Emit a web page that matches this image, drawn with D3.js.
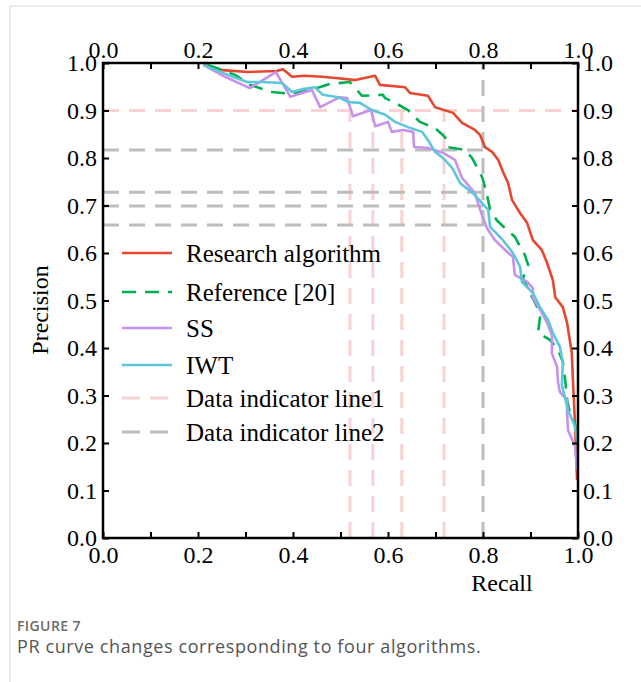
<!DOCTYPE html>
<html>
<head>
<meta charset="utf-8">
<script src="https://cdn.jsdelivr.net/npm/d3@7"></script>
<style>
  body { margin: 0; background: #fff; }
  .serif { font-family: "Liberation Serif", "Times New Roman", serif; }
</style>
</head>
<body>
<svg id="chart" width="641" height="682"></svg>
<script>
// series: [recall, precision] pairs
var researchAlg = [[0.215,0.996],[0.251,0.985],[0.305,0.981],[0.366,0.983],[0.379,0.987],[0.398,0.971],[0.425,0.973],[0.461,0.971],[0.495,0.968],[0.531,0.964],[0.573,0.973],[0.583,0.954],[0.636,0.949],[0.646,0.937],[0.684,0.931],[0.699,0.907],[0.737,0.895],[0.756,0.874],[0.783,0.859],[0.794,0.848],[0.804,0.823],[0.819,0.813],[0.832,0.796],[0.842,0.771],[0.853,0.747],[0.861,0.712],[0.878,0.684],[0.893,0.663],[0.905,0.627],[0.924,0.606],[0.935,0.579],[0.947,0.543],[0.952,0.507],[0.968,0.486],[0.977,0.453],[0.987,0.389],[0.989,0.339],[0.994,0.234],[0.998,0.122]];
var reference20 = [[0.221,0.996],[0.278,0.975],[0.309,0.954],[0.356,0.939],[0.394,0.935],[0.436,0.943],[0.478,0.956],[0.520,0.960],[0.545,0.931],[0.589,0.933],[0.594,0.926],[0.615,0.916],[0.642,0.901],[0.667,0.876],[0.699,0.863],[0.720,0.844],[0.726,0.823],[0.762,0.817],[0.777,0.800],[0.798,0.760],[0.806,0.733],[0.815,0.691],[0.829,0.669],[0.851,0.648],[0.867,0.634],[0.888,0.596],[0.895,0.575],[0.884,0.547],[0.899,0.516],[0.914,0.486],[0.920,0.465],[0.916,0.432],[0.941,0.417],[0.958,0.396],[0.968,0.371],[0.973,0.333],[0.977,0.291],[0.983,0.263],[0.994,0.238],[1.0,0.211]];
var ssAlg = [[0.211,0.996],[0.257,0.971],[0.309,0.947],[0.364,0.981],[0.394,0.929],[0.440,0.943],[0.457,0.907],[0.499,0.928],[0.514,0.926],[0.526,0.888],[0.564,0.901],[0.573,0.867],[0.600,0.876],[0.608,0.855],[0.632,0.859],[0.653,0.855],[0.655,0.823],[0.684,0.821],[0.716,0.811],[0.741,0.796],[0.756,0.758],[0.783,0.726],[0.794,0.691],[0.808,0.653],[0.825,0.627],[0.851,0.602],[0.863,0.592],[0.867,0.554],[0.893,0.539],[0.905,0.526],[0.905,0.505],[0.924,0.474],[0.935,0.453],[0.945,0.427],[0.945,0.389],[0.956,0.360],[0.958,0.328],[0.962,0.307],[0.977,0.291],[0.977,0.263],[0.979,0.227],[0.994,0.192],[0.998,0.143]];
var iwtAlg = [[0.211,0.996],[0.263,0.975],[0.303,0.960],[0.335,0.960],[0.377,0.958],[0.398,0.939],[0.421,0.945],[0.446,0.949],[0.463,0.933],[0.495,0.928],[0.516,0.918],[0.541,0.916],[0.566,0.901],[0.594,0.891],[0.615,0.876],[0.642,0.865],[0.672,0.855],[0.684,0.838],[0.699,0.813],[0.716,0.800],[0.735,0.779],[0.752,0.747],[0.779,0.726],[0.798,0.705],[0.811,0.691],[0.815,0.655],[0.842,0.627],[0.863,0.600],[0.878,0.571],[0.882,0.539],[0.905,0.516],[0.920,0.486],[0.937,0.459],[0.947,0.432],[0.962,0.402],[0.968,0.368],[0.966,0.322],[0.979,0.269],[0.994,0.234],[1.0,0.192]];

// indicator lines
var line1Horiz = [0.9];                          // pink, full width
var line1Vert = [0.52, 0.568, 0.629, 0.718];     // pink, from 0 up to 0.9
var line2Horiz = [0.817, 0.728, 0.699, 0.659];   // grey, from 0 to 0.8
var line2Vert = [0.8];                           // grey, full height

var tickValues = [0, 0.1, 0.2, 0.3, 0.4, 0.5, 0.6, 0.7, 0.8, 0.9, 1.0];
var legendNames = ["Research algorithm", "Reference [20]", "SS", "IWT", "Data indicator line1", "Data indicator line2"];

var svg = d3.select("#chart");

var x = d3.scaleLinear().domain([0, 1]).range([103, 578]),
    y = d3.scaleLinear().domain([0, 1]).range([538, 63]);

// page frame
svg.append("path")
    .attr("d", "M10,682V6H641")
    .attr("fill", "none")
    .attr("stroke", "#d8d8d8")
    .attr("stroke-width", 1);

var pink = "#f9d3d3", grey = "#bdbdbd";

// indicator lines
var ind = svg.append("g").attr("fill", "none").attr("stroke-width", 3).attr("stroke-dasharray", "16,10");
line1Horiz.forEach(function (v) {
    ind.append("line").attr("stroke", pink)
        .attr("x1", x(0)).attr("x2", x(1)).attr("y1", y(v)).attr("y2", y(v));
});
line1Vert.forEach(function (v) {
    ind.append("line").attr("stroke", pink)
        .attr("x1", x(v)).attr("x2", x(v)).attr("y1", y(0)).attr("y2", y(0.9));
});
line2Horiz.forEach(function (v) {
    ind.append("line").attr("stroke", grey)
        .attr("x1", x(0)).attr("x2", x(0.8)).attr("y1", y(v)).attr("y2", y(v));
});
line2Vert.forEach(function (v) {
    ind.append("line").attr("stroke", grey)
        .attr("x1", x(v)).attr("x2", x(v)).attr("y1", y(0)).attr("y2", y(1));
});

// curves
var line = d3.line().x(function (d) { return x(d[0]); }).y(function (d) { return y(d[1]); });
var series = [
    { data: researchAlg, color: "#e5472f", dash: null },
    { data: reference20, color: "#00b04f", dash: "14,9" },
    { data: ssAlg, color: "#c891ee", dash: null },
    { data: iwtAlg, color: "#5cc6da", dash: null }
];
svg.append("g").selectAll("path").data(series).enter()
    .append("path")
    .attr("d", function (d) { return line(d.data); })
    .attr("fill", "none")
    .attr("stroke", function (d) { return d.color; })
    .attr("stroke-width", 2.6)
    .attr("stroke-linejoin", "round")
    .attr("stroke-dasharray", function (d) { return d.dash; });

// axes
var fmt = d3.format(".1f");
var xFmt = function (d, i) { return i % 2 === 0 ? fmt(d) : ""; };

function styleAxis(g) {
    g.select(".domain").remove();
    g.selectAll(".tick line").attr("stroke", "#000").attr("stroke-width", 2);
    g.selectAll("text").attr("class", "serif").attr("font-size", 24).attr("fill", "#000");
}

svg.append("g").attr("transform", "translate(0," + y(0) + ")")
    .call(d3.axisBottom(x).tickValues(tickValues).tickFormat(xFmt).tickSizeInner(-6).tickSizeOuter(0).tickPadding(8))
    .call(styleAxis);
svg.append("g").attr("transform", "translate(0," + y(1) + ")")
    .call(d3.axisTop(x).tickValues(tickValues).tickFormat(xFmt).tickSizeInner(-6).tickSizeOuter(0).tickPadding(5))
    .call(styleAxis);
svg.append("g").attr("transform", "translate(" + x(0) + ",0)")
    .call(d3.axisLeft(y).tickValues(tickValues).tickFormat(fmt).tickSizeInner(-6).tickSizeOuter(0).tickPadding(6))
    .call(styleAxis);
svg.append("g").attr("transform", "translate(" + x(1) + ",0)")
    .call(d3.axisRight(y).tickValues(tickValues).tickFormat(fmt).tickSizeInner(-6).tickSizeOuter(0).tickPadding(5))
    .call(styleAxis);

// plot frame
svg.append("rect")
    .attr("x", x(0)).attr("y", y(1))
    .attr("width", x(1) - x(0)).attr("height", y(0) - y(1))
    .attr("fill", "none").attr("stroke", "#000").attr("stroke-width", 2.5);

// axis titles
svg.append("text").attr("class", "serif")
    .attr("transform", "translate(48,310) rotate(-90)")
    .attr("text-anchor", "middle").attr("font-size", 24)
    .text("Precision");
svg.append("text").attr("class", "serif")
    .attr("x", 502).attr("y", 591)
    .attr("text-anchor", "middle").attr("font-size", 24)
    .text("Recall");

// legend
var legendStyle = [
    { color: "#e5472f", dash: null },
    { color: "#00b04f", dash: "14,9" },
    { color: "#c891ee", dash: null },
    { color: "#5cc6da", dash: null },
    { color: pink, dash: "18,10" },
    { color: grey, dash: "18,10" }
];
var legendY = [253, 292, 328, 365, 398, 432];
var lg = svg.append("g").selectAll("g").data(legendNames).enter()
    .append("g")
    .attr("transform", function (d, i) { return "translate(0," + legendY[i] + ")"; });
lg.append("line")
    .attr("x1", 122).attr("x2", 172)
    .attr("stroke", function (d, i) { return legendStyle[i].color; })
    .attr("stroke-width", function (d, i) { return i > 3 ? 3 : 2.6; })
    .attr("stroke-dasharray", function (d, i) { return legendStyle[i].dash; });
lg.append("text").attr("class", "serif")
    .attr("x", 186).attr("dy", "0.35em")
    .attr("font-size", 25)
    .text(function (d) { return d; });

// caption
svg.append("text")
    .attr("x", 17).attr("y", 631)
    .attr("font-family", "'Open Sans', sans-serif")
    .attr("font-size", 14).attr("font-weight", 600)
    .attr("letter-spacing", 0.4)
    .attr("fill", "#6b6b6b")
    .text("FIGURE 7");
svg.append("text")
    .attr("x", 17).attr("y", 653)
    .attr("font-family", "'Open Sans', sans-serif")
    .attr("font-size", 18)
    .attr("letter-spacing", 0.6)
    .attr("fill", "#555")
    .text("PR curve changes corresponding to four algorithms.");
</script>
</body>
</html>
